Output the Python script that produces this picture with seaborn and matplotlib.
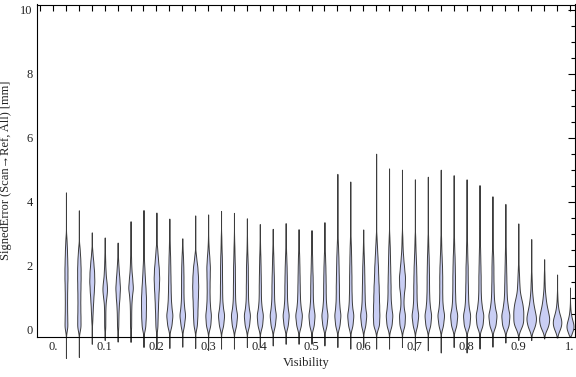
import numpy as np
import pandas as pd
import matplotlib
matplotlib.use("Agg")
import matplotlib.pyplot as plt
import seaborn as sns
from matplotlib.ticker import FixedLocator, MultipleLocator

# ---------------- data ----------------
visibility = [0.025, 0.05, 0.075, 0.1, 0.125, 0.15, 0.175, 0.2, 0.225, 0.25,
              0.275, 0.3, 0.325, 0.35, 0.375, 0.4, 0.425, 0.45, 0.475, 0.5,
              0.525, 0.55, 0.575, 0.6, 0.625, 0.65, 0.675, 0.7, 0.725, 0.75,
              0.775, 0.8, 0.825, 0.85, 0.875, 0.9, 0.925, 0.95, 0.975, 1.0]

err_max = [4.29, 3.73, 3.04, 2.88, 2.72, 3.39, 3.74, 3.66, 3.47, 2.85,
           3.57, 3.60, 3.71, 3.65, 3.48, 3.30, 3.15, 3.33, 3.14, 3.11,
           3.36, 4.87, 4.63, 3.13, 5.50, 5.04, 5.00, 4.70, 4.78, 5.00,
           4.83, 4.70, 4.52, 4.17, 3.93, 3.32, 2.83, 2.20, 1.72, 1.31]

err_min = [-0.89, -0.86, -0.45, -0.33, -0.38, -0.39, -0.55, -0.61, -0.58, -0.54,
           -0.58, -0.64, -0.60, -0.60, -0.55, -0.55, -0.50, -0.45, -0.45, -0.45,
           -0.50, -0.55, -0.60, -0.55, -0.60, -0.60, -0.55, -0.65, -0.65, -0.72,
           -0.55, -0.72, -0.60, -0.54, -0.41, -0.33, -0.33, -0.28, -0.25, -0.20]

G = [0.15, 0.45, 0.75, 1.05, 1.35, 1.65, 1.95, 2.25, 2.55, 2.85]
body_values = [
    [0.1, 0.4, 0.7, 1.0, 1.3, 1.6, 1.9, 2.2, 2.5, 2.8],
    [0.1, 0.4, 0.7, 1.0, 1.3, 1.6, 1.9, 2.2, 2.5],
    [0.3, 0.6, 0.9, 1.2, 1.5, 1.8, 2.1, 2.4],
    [0.1, 0.4, 0.7, 1.0, 1.25, 1.5, 1.8, 2.1, 2.4],
    [0.1, 0.4, 0.7, 1.0, 1.3, 1.6, 1.9, 2.2],
    [0.1, 0.4, 0.7, 1.0, 1.3, 1.6, 1.9, 2.2, 2.5],
    [0.1, 0.4, 0.7, 1.0, 1.3, 1.6, 1.9, 2.2],
    [0.1, 0.4, 0.7, 1.0, 1.3, 1.6, 1.9, 2.2, 2.5],
    G, G,
    [0.15, 0.45, 0.75, 1.05, 1.35, 1.65, 1.95, 2.25],
    G, G, G, G, G, G, G, G, G, G, G, G, G, G, G,
    G, G, G, G, G, G, G, G, G,
    [0.1, 0.3, 0.55, 0.8, 1.05, 1.35, 1.65, 1.95],
    [0.1, 0.35, 0.6, 0.85, 1.1, 1.4, 1.7],
    [0.1, 0.35, 0.6, 0.85, 1.1, 1.4, 1.7],
    [0.05, 0.25, 0.45, 0.7, 1.0],
    [0.0, 0.15, 0.35, 0.6],
]
body_weights = [
    [12, 10, 9, 9, 10, 12, 12, 10, 8, 5],
    [12, 11, 10, 10, 11, 12, 12, 10, 6],
    [4, 7, 11, 16, 20, 18, 12, 5],
    [6, 6, 7, 14, 22, 16, 9, 5, 3],
    [6, 7, 10, 17, 22, 16, 9, 4],
    [6, 6, 7, 12, 24, 16, 8, 5, 3],
    [12, 15, 16, 16, 13, 9, 6, 3],
    [6, 7, 9, 11, 14, 16, 14, 9, 5],
    [14, 20, 12, 9, 8, 7, 6, 5, 3, 2],
    [12, 20, 11, 8, 8, 8, 7, 5, 2, 1],
    [9, 11, 12, 14, 15, 14, 11, 5],
    [13, 16, 10, 8, 8, 9, 10, 7, 3, 1],
    [14, 20, 10, 7, 7, 6, 6, 5, 3, 2],
    [15, 21, 10, 7, 7, 6, 6, 4, 3, 1],
    [15, 21, 10, 7, 7, 6, 6, 4, 2, 1],
    [16, 21, 10, 7, 7, 6, 5, 4, 2, 1],
    [14, 20, 11, 8, 8, 7, 5, 4, 2, 1],
    [14, 20, 11, 8, 8, 7, 6, 4, 2, 1],
    [15, 21, 11, 8, 7, 6, 5, 4, 2, 1],
    [15, 20, 11, 8, 8, 7, 5, 4, 2, 1],
    [14, 20, 11, 8, 8, 7, 6, 4, 2, 1],
    [13, 18, 11, 9, 9, 8, 7, 6, 4, 2],
    [14, 19, 10, 8, 7, 7, 6, 5, 4, 2],
    [14, 20, 11, 9, 8, 7, 6, 4, 2, 1],
    [13, 14, 13, 12, 11, 9, 8, 6, 4, 2],
    [14, 18, 11, 8, 8, 7, 6, 5, 4, 2],
    [13, 15, 7, 8, 14, 15, 10, 6, 3, 2],
    [13, 19, 11, 9, 9, 8, 7, 5, 3, 2],
    [15, 20, 11, 8, 7, 7, 6, 5, 3, 2],
    [13, 19, 10, 8, 8, 8, 7, 5, 3, 2],
    [15, 20, 10, 8, 7, 7, 6, 5, 3, 2],
    [16, 20, 10, 8, 7, 6, 6, 4, 3, 2],
    [17, 21, 11, 7, 6, 6, 5, 4, 3, 1],
    [17, 22, 11, 7, 6, 5, 5, 4, 2, 1],
    [18, 22, 12, 7, 6, 5, 4, 3, 2, 1],
    [14, 20, 22, 18, 10, 6, 4, 2],
    [20, 28, 18, 10, 6, 4, 2],
    [22, 28, 18, 10, 6, 3, 2],
    [25, 32, 18, 8, 3],
    [30, 30, 15, 5],
]
sample_size = [300, 350, 500, 450, 450, 450, 500, 550, 600, 550,
               600, 550, 600, 600, 600, 600, 600, 600, 650, 600,
               600, 600, 600, 600, 650, 650, 600, 650, 650, 650,
               700, 700, 750, 800, 800, 1000, 950, 1000, 850, 700]

xtick_vals = [0.0, 0.1, 0.2, 0.3, 0.4, 0.5, 0.6, 0.7, 0.8, 0.9, 1.0]
xtick_labels = ["0.", "0.1", "0.2", "0.3", "0.4", "0.5", "0.6", "0.7", "0.8", "0.9", "1."]
ytick_vals = [0, 2, 4, 6, 8, 10]
ytick_labels = ["0", "2", "4", "6", "8", "10"]

# ---------------- build long-form table ----------------
rows_x, rows_y = [], []
for pos, lo, hi, vals, wts, n in zip(visibility, err_min, err_max,
                                     body_values, body_weights, sample_size):
    w = np.asarray(wts, float)
    cnt = np.round(w / w.sum() * n).astype(int)
    ys = np.concatenate([[lo], np.repeat(vals, cnt), [hi]])
    rows_y.append(ys)
    rows_x.append(np.full(len(ys), pos))
df = pd.DataFrame({"Visibility": np.concatenate(rows_x),
                   "SignedError": np.concatenate(rows_y)})

BW = 0.15
def fixed_bw(kde):
    return BW / np.std(kde.dataset, ddof=1)

# ---------------- plot ----------------
sns.set_theme(style="white")
plt.rcParams["font.family"] = ["Liberation Serif", "DejaVu Serif"]

fig = plt.figure(figsize=(5.76, 3.77), dpi=100)
ax = fig.add_axes([37 / 576, 40 / 377, 538 / 576, 332.5 / 377])

sns.violinplot(data=df, x="Visibility", y="SignedError", native_scale=True,
               orient="x", cut=0, inner=None, density_norm="count",
               bw_method=fixed_bw, gridsize=400, width=0.774,
               color="#c9cef4", saturation=1, linecolor="#3c3c3c",
               linewidth=0.7, ax=ax)
for coll in ax.collections:
    coll.set_clip_on(False)

ax.set_xlim(-0.031, 1.0097)
ax.set_ylim(-0.235, 10.17)

ax.xaxis.set_major_locator(FixedLocator(xtick_vals))
ax.set_xticklabels(xtick_labels)
ax.xaxis.set_minor_locator(MultipleLocator(0.025))
ax.yaxis.set_major_locator(FixedLocator(ytick_vals))
ax.set_yticklabels(ytick_labels)
ax.yaxis.set_minor_locator(MultipleLocator(0.5))

ax.tick_params(which="both", direction="in", top=True, right=True,
               color="black", width=0.8, labelsize=9, labelcolor="#222222")
ax.tick_params(axis="x", which="both", length=4.5, pad=3)
ax.tick_params(axis="y", which="major", length=5, pad=3)
ax.tick_params(axis="y", which="minor", length=2.7)

for sp in ax.spines.values():
    sp.set_color("black")
    sp.set_linewidth(0.8)

ax.set_xlabel("Visibility", fontsize=9, color="#222222", labelpad=3)
ax.set_ylabel("SignedError (Scan\u2192Ref, All) [mm]", fontsize=9,
              color="#222222", labelpad=6)
ax.grid(False)

fig.savefig("out.png", dpi=100)
